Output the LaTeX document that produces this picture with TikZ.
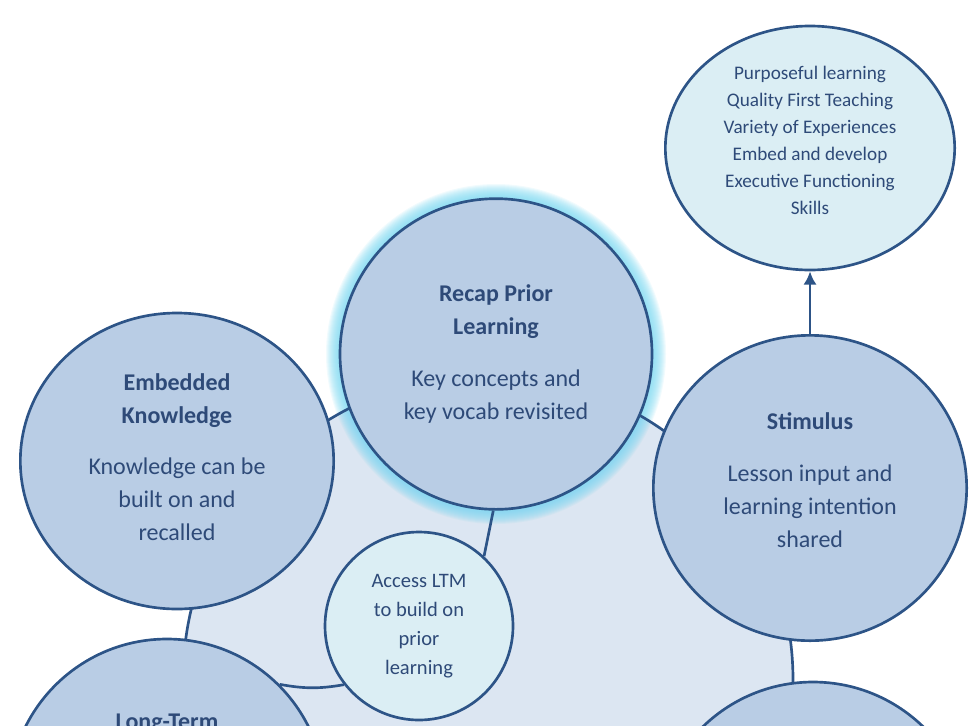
\documentclass[tikz,border=0pt]{standalone}
\usepackage{fontspec}
\setmainfont{Carlito}
\usepackage{tikz}
\usetikzlibrary{positioning,arrows.meta,shapes.geometric}
\definecolor{colordisc}   {RGB}{220,230,242}
\definecolor{colorbubble} {RGB}{185,205,229}
\definecolor{colorsmall}  {RGB}{219,238,244}
\definecolor{colorline}   {RGB}{45 ,84 ,135}
\definecolor{colortext}   {RGB}{46 ,74 ,120}
\definecolor{colorglow}   {RGB}{120,215,240}

\begin{document}
\begin{tikzpicture}[
    x=0.75pt, y=-0.75pt,
    bubble/.style={ellipse,draw=colorline,line width=2pt,fill=colorbubble,
        text=colortext,align=center,inner sep=0pt,
        font={\fontsize{18}{24.75}\selectfont}},
    smallbubble/.style={ellipse,draw=colorline,line width=2pt,fill=colorsmall,
        text=colortext,align=center,inner sep=0pt},
    title/.style={text=colortext,font={\fontsize{18}{24.75}\selectfont\bfseries}},
    link/.style={draw=colorline,line width=2pt},
]
    \useasboundingbox (0,0) rectangle (973,725);

    % the cycle disc and the glow round the first step
    \coordinate (hub) at (488,680);
    \coordinate (recapmid) at (496,354);
    \fill[colordisc] (hub) circle (228.75pt);
    \foreach \g in {1,...,14}
        \fill[colorglow,opacity=0.1] (recapmid) circle ({117pt+0.75pt*\g});
    \draw[link] (hub) circle (228.75pt);

    \node[bubble,minimum width=234pt,minimum height=233pt] (recap) at (recapmid)
        {\textbf{Recap Prior}\\\textbf{Learning}\\[14pt]Key concepts and\\key vocab revisited};
    \node[bubble,minimum width=235pt,minimum height=222pt,text depth=6pt] (embedded) at (177,461)
        {\textbf{Embedded}\\\textbf{Knowledge}\\[14pt]Knowledge can be\\built on and\\recalled};
    \node[bubble,minimum width=235pt,minimum height=229pt,text depth=12pt] (stimulus) at (810,488)
        {\textbf{Stimulus}\\[14pt]Lesson input and\\learning intention\\shared};
    \node[bubble,minimum width=237pt,minimum height=237pt] (longterm) at (167,797) {};
    \node[bubble,minimum width=237pt,minimum height=237pt] (lowright) at (813,840) {};
    \node[title,anchor=base] (longtermtitle) at (167,729) {Long-Term};

    \node[smallbubble,minimum width=217pt,minimum height=183pt,text depth=12pt,
        font={\fontsize{14.4}{20.25}\selectfont}] (goals) at (810,148)
        {Purposeful learning\\Quality First Teaching\\Variety of Experiences\\
         Embed and develop\\Executive Functioning\\Skills};
    \node[smallbubble,minimum width=141pt,minimum height=141pt,
        font={\fontsize{15.4}{21.75}\selectfont}] (access) at (419,626)
        {Access LTM\\to build on\\prior\\learning};

    \draw[link] (recap.-91) -- (access.47);
    \draw[link] (longterm.45) to[bend right=10] (access.218);
    \draw[link,-{Latex[length=10pt,width=10pt]}] (stimulus.north) -- (goals.south);

\end{tikzpicture}
\end{document}
